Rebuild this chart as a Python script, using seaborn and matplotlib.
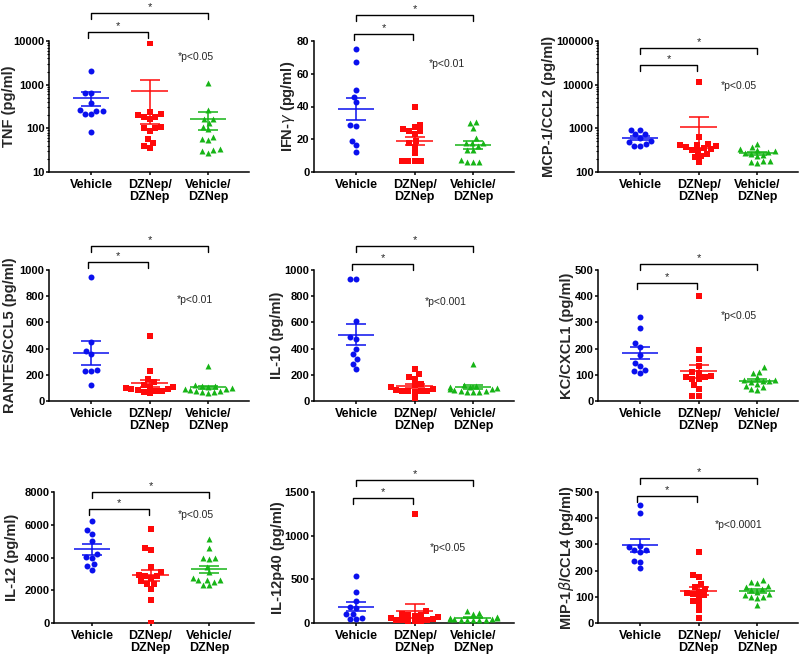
import matplotlib
matplotlib.use("Agg")
import matplotlib.pyplot as plt
from matplotlib.ticker import FuncFormatter, LogLocator, NullFormatter, NullLocator
import pandas as pd
import seaborn as sns

# ---------------------------------------------------------------------------
# Data (pg/ml)
# ---------------------------------------------------------------------------
GROUPS = ["Vehicle", "DZNep/DZNep", "Vehicle/DZNep"]
GROUP_LABELS = ["Vehicle", "DZNep/\nDZNep", "Vehicle/\nDZNep"]
COLORS = ["#0A10EE", "#FF0A0A", "#16B416"]
MARKERS = ["o", "s", "^"]

tnf_vehicle = [2100, 660, 650, 380, 265, 255, 250, 215, 210, 84]
tnf_dzdz = [9000, 235, 210, 200, 180, 180, 160, 105, 102, 100, 88, 58, 46, 40, 35]
tnf_vedz = [1100, 260, 165, 160, 130, 110, 95, 65, 57, 55, 33, 32, 31, 27]

ifn_vehicle = [75, 67, 50, 46, 42.5, 29, 28, 19, 16.5, 12]
ifn_dzdz = [39.5, 29, 27.5, 26, 25, 25, 23, 19, 17.5, 15.5, 11.5, 6.5, 6.5, 6.5, 6.5]
ifn_vedz = [30.5, 30, 27, 20.5, 18, 17.5, 17.5, 16, 13.5, 13.5, 7.5, 6, 6, 6]

mcp_vehicle = [930, 930, 730, 730, 590, 510, 480, 440, 390, 390]
mcp_dzdz = [11500, 630, 440, 420, 410, 400, 370, 350, 330, 320, 310, 255, 235, 220, 170]
mcp_vedz = [440, 380, 330, 320, 300, 290, 270, 260, 240, 230, 180, 175, 170, 165]

rantes_vehicle = [950, 450, 380, 355, 235, 230, 228, 120]
rantes_dzdz = [495, 230, 165, 145, 120, 110, 110, 100, 95, 90, 85, 80, 75, 70, 60]
rantes_vedz = [265, 120, 115, 115, 110, 100, 95, 90, 85, 80, 75, 70, 65, 60]

il10_vehicle = [935, 935, 610, 490, 475, 400, 355, 320, 285, 245]
il10_dzdz = [245, 205, 180, 170, 130, 120, 110, 95, 85, 80, 80, 75, 75, 70, 20]
il10_vedz = [280, 120, 115, 110, 105, 100, 95, 90, 85, 80, 75, 70, 70, 70]

kc_vehicle = [320, 280, 220, 205, 175, 145, 133, 119, 115, 106]
kc_dzdz = [400, 195, 160, 132, 110, 108, 95, 92, 90, 85, 85, 60, 45, 20, 20]
kc_vedz = [128, 112, 108, 90, 82, 80, 78, 76, 72, 66, 58, 52, 45, 42]

il12_vehicle = [6200, 5700, 5450, 5000, 4200, 4050, 4000, 3600, 3500, 3250]
il12_dzdz = [5750, 4600, 4450, 3400, 3100, 2950, 2900, 2850, 2750, 2550, 2400, 2400, 2100, 1400, 20]
il12_vedz = [5100, 4600, 3950, 3950, 3900, 3450, 3100, 2750, 2650, 2600, 2600, 2500, 2350, 2300]

p40_vehicle = [540, 350, 255, 185, 175, 105, 100, 60, 45, 45]
p40_dzdz = [1250, 140, 100, 95, 90, 85, 70, 60, 50, 40, 35, 30, 25, 20, 15]
p40_vedz = [135, 110, 105, 70, 60, 55, 50, 45, 45, 40, 40, 35, 35, 30]

mip_vehicle = [450, 420, 295, 290, 280, 280, 272, 237, 233, 210]
mip_dzdz = [272, 182, 175, 150, 138, 130, 120, 115, 110, 105, 97, 85, 72, 48, 18]
mip_vedz = [163, 158, 152, 140, 138, 130, 125, 118, 112, 108, 100, 98, 95, 68]

# label, values, log?, ticks, p-text
PANELS = [
    ("TNF (pg/ml)", [tnf_vehicle, tnf_dzdz, tnf_vedz], True, [10, 100, 1000, 10000], "*p<0.05"),
    ("IFN-$\\gamma$ (pg/ml)", [ifn_vehicle, ifn_dzdz, ifn_vedz], False, [0, 20, 40, 60, 80], "*p<0.01"),
    ("MCP-1/CCL2 (pg/ml)", [mcp_vehicle, mcp_dzdz, mcp_vedz], True, [100, 1000, 10000, 100000], "*p<0.05"),
    ("RANTES/CCL5 (pg/ml)", [rantes_vehicle, rantes_dzdz, rantes_vedz], False, [0, 200, 400, 600, 800, 1000], "*p<0.01"),
    ("IL-10 (pg/ml)", [il10_vehicle, il10_dzdz, il10_vedz], False, [0, 200, 400, 600, 800, 1000], "*p<0.001"),
    ("KC/CXCL1 (pg/ml)", [kc_vehicle, kc_dzdz, kc_vedz], False, [0, 100, 200, 300, 400, 500], "*p<0.05"),
    ("IL-12 (pg/ml)", [il12_vehicle, il12_dzdz, il12_vedz], False, [0, 2000, 4000, 6000, 8000], "*p<0.05"),
    ("IL-12p40 (pg/ml)", [p40_vehicle, p40_dzdz, p40_vedz], False, [0, 500, 1000, 1500], "*p<0.05"),
    ("MIP-1$\\beta$/CCL4 (pg/ml)", [mip_vehicle, mip_dzdz, mip_vedz], False, [0, 100, 200, 300, 400, 500], "*p<0.0001"),
]

# layout (pixels / axes fractions)
AX_LEFT_PX = [49, 314, 598, 49, 314, 598, 54, 314, 598]
ROW_TOP_PX = [41, 270, 492]
AX_W_PX, AX_H_PX = 200, 131
CAT_PX = 58.5
YLABEL_X = [-0.20, -0.13, -0.245, -0.195, -0.185, -0.155, -0.21, -0.18, -0.155]
# long bracket y, short bracket y, short bracket x start
BRACKETS = [(1.214, 1.069, -0.06), (1.198, 1.053, -0.04), (0.947, 0.817, 0.0),
            (1.183, 1.061, -0.06), (1.183, 1.046, -0.07), (1.046, 0.900, -0.05),
            (1.000, 0.870, -0.06), (1.092, 0.954, -0.06), (1.107, 0.970, -0.06)]
PTEXT_POS = [(1.79, 0.878), (1.55, 0.824), (1.68, 0.656), (1.77, 0.771), (1.53, 0.756),
             (1.68, 0.650), (1.77, 0.824), (1.56, 0.573), (1.68, 0.748)]

sns.set_style("ticks")
plt.rcParams["font.family"] = ["Liberation Sans", "DejaVu Sans"]
plt.rcParams["mathtext.fontset"] = "dejavusans"

fig = plt.figure(figsize=(8, 6.61), dpi=100)
fig.patch.set_facecolor("white")

for k, (ylabel, series, is_log, ticks, ptext) in enumerate(PANELS):
    row = k // 3
    ax = fig.add_axes([AX_LEFT_PX[k] / 800, 1 - (ROW_TOP_PX[row] + AX_H_PX) / 661,
                       AX_W_PX / 800, AX_H_PX / 661])

    df = pd.DataFrame({
        "group": [g for g, vals in zip(GROUPS, series) for _ in vals],
        "value": [v for vals in series for v in vals],
    })

    for g, c, m in zip(GROUPS, COLORS, MARKERS):
        sns.swarmplot(data=df[df["group"] == g], x="group", y="value", order=GROUPS,
                      color=c, marker=m, size=4.3, linewidth=0, ax=ax,
                      log_scale=is_log, warn_thresh=1)

    # mean +/- SEM
    stats = df.groupby("group")["value"].agg(["mean", "sem"]).reindex(GROUPS)
    for i, (g, c) in enumerate(zip(GROUPS, COLORS)):
        mu, se = stats.loc[g, "mean"], stats.loc[g, "sem"]
        ax.hlines(mu, i - 0.31, i + 0.31, color=c, lw=1.1, zorder=4)
        ax.vlines(i, mu - se, mu + se, color=c, lw=1.1, zorder=4)
        ax.hlines([mu - se, mu + se], i - 0.17, i + 0.17, color=c, lw=1.1, zorder=4)

    # axes styling
    x0 = -0.65 if k == 6 else -0.72
    ax.set_xlim(x0, x0 + AX_W_PX / CAT_PX)
    ax.set_ylim(ticks[0], ticks[-1])
    ax.set_yticks(ticks)
    if is_log:
        ax.yaxis.set_minor_locator(LogLocator(base=10, subs=range(2, 10)))
        ax.yaxis.set_minor_formatter(NullFormatter())
    else:
        ax.yaxis.set_minor_locator(NullLocator())
    ax.yaxis.set_major_formatter(FuncFormatter(lambda v, _: f"{v:.0f}"))
    ax.set_xticks(range(3))
    ax.set_xticklabels(GROUP_LABELS, fontsize=9, fontweight="bold", linespacing=1.0)
    for lab in ax.get_yticklabels():
        lab.set_fontweight("bold")
        lab.set_fontsize(8)
    ax.set_xlabel("")
    ax.set_ylabel(ylabel, fontsize=10.5, fontweight="bold", va="center")
    ax.yaxis.set_label_coords(YLABEL_X[k], 0.5)
    ax.spines[["top", "right"]].set_visible(False)
    ax.spines[["left", "bottom"]].set_linewidth(1.1)
    ax.spines[["left", "bottom"]].set_color("black")
    ax.tick_params(axis="both", direction="out", length=2.5, width=1.1, colors="black")
    ax.tick_params(axis="y", which="minor", direction="out", length=1.3, width=0.8, colors="black")
    ax.tick_params(axis="y", pad=0.8)
    ax.tick_params(axis="x", pad=2.5)

    # significance brackets
    trans = ax.get_xaxis_transform()
    long_y, short_y, sx0 = BRACKETS[k]
    leg = 0.046
    for xa, xb, yb in [(0, 2, long_y), (sx0, 0.98, short_y)]:
        ax.plot([xa, xa, xb, xb], [yb - leg, yb, yb, yb - leg], color="black",
                lw=1.0, transform=trans, clip_on=False)
        ax.text((xa + xb) / 2, yb + 0.045, "*", ha="center", va="center",
                fontsize=8, transform=trans, clip_on=False)

    px, py = PTEXT_POS[k]
    ax.text(px, py, ptext, ha="center", va="center", fontsize=7.5, transform=trans)

fig.savefig("out.png", dpi=100, facecolor="white")
